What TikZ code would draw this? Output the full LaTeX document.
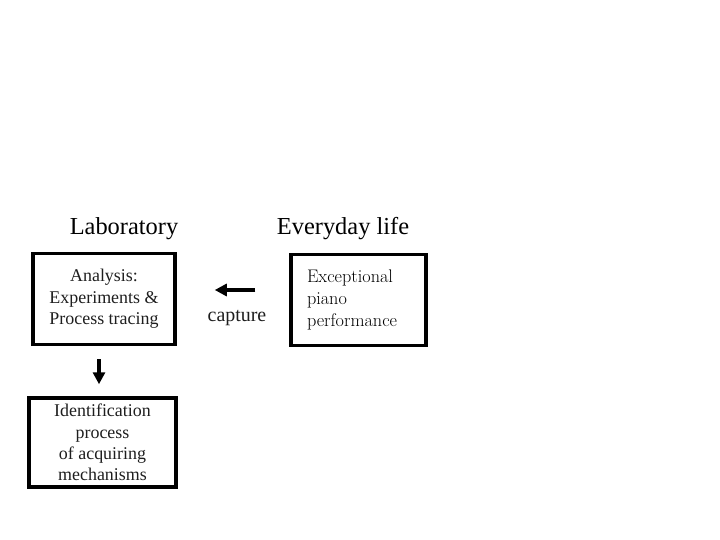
\documentclass[tikz,border=0pt]{standalone}
\usepackage{fontspec}
\usepackage{tikz}
\usetikzlibrary{positioning, arrows.meta}
\newfontfamily\labfont{Liberation Serif}
\definecolor{boxtext}{RGB}{30, 30, 30}

\begin{document}
\begin{tikzpicture}[x=1bp, y=-1bp,
  headfont/.style={font=\labfont\fontsize{24.5}{28}\selectfont, anchor=base},
  stagebox/.style={draw, line width=3.5bp, inner sep=0pt, align=center,
    text=boxtext, font=\labfont\fontsize{18}{21.5}\selectfont},
  bigarrow/.style={line width=4bp, -{Triangle[length=12bp, width=12bp]}}]
\useasboundingbox (0,0) rectangle (720,540);
\node[headfont] (lab) at (124,235) {Laboratory};
\node[headfont] (everyday) at (343,235) {Everyday life};
\node[stagebox, minimum width=142bp, minimum height=91bp] (analysis) at (104,299)
  {Analysis:\\Experiments \&\\Process tracing};
\node[stagebox, minimum width=135bp, minimum height=91bp, align=left,
  text width=103bp, font=\fontsize{18.3}{22}\selectfont, text=black] (piano) at (358.5,300)
  {Exceptional\\piano\\performance};
\node[stagebox, minimum width=147bp, minimum height=89bp] (ident) at (102.5,442.5)
  {Identification\\process\\of acquiring\\mechanisms};
\node[font=\labfont\fontsize{20}{22}\selectfont, text=boxtext] (capture) at (237,318) {capture};
\draw[bigarrow, shorten <=34bp, shorten >=38bp] (piano.west |- 0,290) -- (analysis.east |- 0,290);
\draw[bigarrow, shorten <=13bp, shorten >=12bp] (99,0 |- analysis.south) -- (99,0 |- ident.north);
\end{tikzpicture}
\end{document}
